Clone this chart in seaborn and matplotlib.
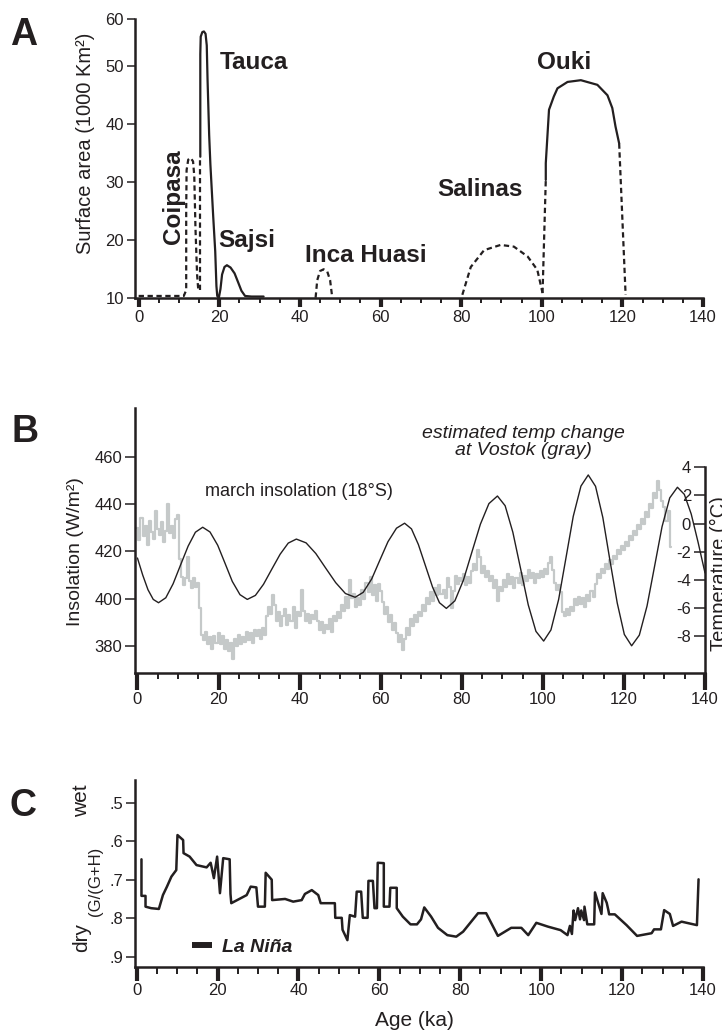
import matplotlib
matplotlib.use("Agg")
import numpy as np
import pandas as pd
import matplotlib.pyplot as plt
from matplotlib.lines import Line2D
from matplotlib.ticker import MultipleLocator
import seaborn as sns

# ---------------- panel A: lake surface area (1000 km2) ----------------
coipasa_age = [0, 11.2, 11.8, 11.8, 11.9, 12.3, 12.9, 13.5, 13.8, 14.1, 14.5, 14.8]
coipasa_area = [10.3, 10.3, 11.3, 25, 32, 33.8, 34.1, 33.5, 31, 22, 14, 11.3]
tauca_dash_age = [15.3, 15.3]
tauca_dash_area = [11.3, 34.3]
tauca_age = [15.3, 15.3, 15.4, 15.8, 16.2, 16.6, 16.9, 17.1, 17.5, 17.8, 18.5, 19.0, 19.3,
             19.5, 19.9, 20.3, 20.7, 21.3, 21.9, 22.8, 23.8, 24.6, 25.5, 26.4, 28, 31]
tauca_area = [34.3, 52, 55, 55.8, 55.9, 55.5, 53.5, 47.5, 38, 33, 24, 18, 12,
              10.3, 10, 11.5, 14, 15.3, 15.6, 15.2, 14.2, 12.8, 11.2, 10.3, 10.2, 10.2]
inca_age = [43.9, 44.3, 45.0, 45.9, 46.8, 47.5, 48.0]
inca_area = [10.0, 13.0, 14.6, 14.9, 14.5, 13.0, 10.2]
salinas_age = [80.3, 82.4, 85.7, 89.8, 93.1, 96.5, 98.9, 100.2]
salinas_area = [10.5, 15.3, 18.2, 19.1, 18.8, 17.1, 14.8, 10.8]
ouki_rise_age = [100.2, 101.0]
ouki_rise_area = [10.8, 30.3]
ouki_age = [101.0, 101.0, 101.8, 103.0, 103.9, 106.4, 109.7, 113.8, 116.3, 117.5, 118.3, 119.2]
ouki_area = [30.3, 33.2, 42.4, 44.7, 46.1, 47.2, 47.5, 46.7, 44.9, 42.7, 39.5, 36.6]
ouki_fall_age = [119.2, 120.8]
ouki_fall_area = [36.6, 10.5]

# ---------------- panel B: march insolation 18S and Vostok temperature ----------------
ins_age = [0, 1.3, 2.6, 3.9, 5.2, 7.0, 8.8, 10.65, 12.5, 14.3, 16.1, 17.9, 19.8, 21.6, 23.4,
           25.3, 27.1, 29.1, 31.1, 33.15, 35.2, 37.2, 39.2, 41.6, 44.0, 46.45, 48.9, 51.3,
           53.7, 55.7, 57.8, 59.8, 61.8, 63.9, 65.9, 67.6, 69.3, 71.05, 72.8, 74.5, 76.2,
           78.3, 80.4, 82.5, 84.6, 86.7, 88.8, 90.7, 92.6, 94.5, 96.4, 98.3, 100.2, 102.0,
           103.9, 105.7, 107.5, 109.4, 111.2, 113.0, 114.8, 116.55, 118.35, 120.1, 121.9,
           123.8, 125.7, 127.55, 129.4, 131.3, 133.2, 134.9, 136.6, 138.3, 140]
ins_wm2 = [417.2, 410.0, 403.8, 399.7, 398.3, 400.4, 406.3, 414.3, 422.2, 428.1, 430.2,
           428.2, 422.6, 415.0, 407.3, 401.7, 399.7, 401.4, 406.1, 412.5, 418.8, 423.5,
           425.2, 423.6, 419.1, 412.9, 406.8, 402.2, 400.6, 402.7, 408.4, 416.3, 424.1,
           429.8, 431.9, 429.5, 422.9, 413.9, 404.9, 398.3, 395.9, 399.1, 407.8, 419.7,
           431.5, 440.2, 443.4, 439.3, 428.1, 412.8, 397.4, 386.2, 382.1, 386.8, 399.7,
           417.2, 434.8, 447.6, 452.3, 447.5, 434.3, 416.2, 398.2, 384.9, 380.1, 384.6,
           396.9, 413.6, 430.4, 442.6, 447.1, 444.1, 435.8, 423.8, 410.9]

# Vostok temperature change, one value per 0.5 ka from 0 to 131.5 ka
vostok_temp = [
    -0.3, -1.2, 0.4, -0.9, -0.2, -1.5, 0.2, -0.6, -1.1, 0.9, -0.4, -0.8, 0.1, -1.3, -0.5, 1.4, -0.7, -0.2, -1.0, 0.3,
    0.6, -2.5, -3.8, -4.4, -3.9, -2.4, -4.1, -4.6, -3.9, -4.5, -4.2, -6.0, -7.9, -8.3, -7.7, -8.6, -8.1, -8.9, -8.0, -8.5,
    -7.8, -8.6, -8.0, -8.9, -8.3, -9.1, -8.5, -9.6, -8.2, -8.7, -7.9, -8.6, -8.1, -8.4, -7.7, -8.3, -7.8, -8.5, -7.6, -8.0,
    -7.6, -8.2, -7.4, -7.9, -6.6, -5.9, -6.4, -5.1, -5.8, -6.9, -6.3, -7.3, -6.6, -6.1, -7.2, -6.5, -6.9, -5.9, -7.4, -6.3,
    -6.6, -4.7, -6.2, -6.9, -6.4, -7.1, -6.5, -6.8, -6.2, -6.9, -7.6, -7.0, -7.8, -7.2, -7.5, -6.8, -7.7, -6.6, -6.9, -6.3,
    -6.7, -5.8, -6.2, -5.2, -6.0, -4.0, -5.3, -5.0, -5.9, -5.3, -5.8, -4.7, -5.4, -4.2, -4.9, -3.8, -5.1, -4.4, -5.5, -4.3,
    -4.8, -5.6, -6.4, -5.9, -7.0, -6.5, -7.6, -7.1, -7.8, -8.4, -7.9, -9.0, -8.2, -7.4, -7.9, -6.8, -7.3, -6.5, -7.0, -6.3,
    -6.6, -5.8, -6.2, -5.3, -5.7, -4.9, -5.5, -4.6, -5.1, -4.4, -5.0, -4.7, -5.3, -3.9, -4.5, -6.0, -4.8, -3.7, -4.3, -3.9,
    -4.1, -3.6, -4.4, -3.8, -4.2, -3.4, -2.9, -3.3, -1.9, -2.4, -3.5, -3.0, -3.8, -3.4, -4.1, -3.7, -4.6, -4.0, -5.5, -4.5,
    -4.8, -4.0, -4.5, -3.6, -4.3, -3.8, -4.6, -3.9, -4.2, -3.5, -4.4, -3.7, -4.1, -3.3, -3.9, -3.5, -4.2, -3.6, -3.9, -3.4,
    -3.8, -3.2, -3.6, -2.8, -2.4, -3.3, -4.2, -4.7, -4.4, -4.9, -6.3, -6.6, -6.1, -6.5, -5.9, -6.2, -5.4, -5.8, -5.2, -5.7,
    -5.3, -5.9, -5.1, -5.5, -4.8, -5.2, -4.3, -3.6, -3.9, -3.2, -3.5, -2.9, -3.2, -2.6, -2.9, -2.3, -2.5, -1.9, -2.2, -1.6,
    -1.9, -1.3, -1.6, -0.9, -1.2, -0.5, -0.8, -0.1, -0.4, 0.3, 0.0, 0.8, 0.5, 1.4, 1.1, 2.2, 1.8, 3.0, 2.4, 1.6,
    1.2, 0.2, 0.9, -1.7,
]
vostok_age = np.arange(len(vostok_temp)) * 0.5

# ---------------- panel C: G/(G+H) ratio ----------------
gh_age = [1.2, 1.2, 2.2, 2.2, 3.6, 5.5, 6.5, 7.5, 8.6, 9.8,
          10.1, 11.5, 11.6, 13.1, 14.8, 17.3, 18.3, 19.1, 19.9, 20.6,
          21.4, 23.0, 23.2, 23.4, 27.2, 28.2, 29.6, 30.0, 31.7, 31.9,
          33.4, 33.5, 36.7, 38.7, 40.8, 41.6, 43.3, 44.9, 45.5, 49.0,
          49.1, 50.7, 50.9, 52.1, 52.7, 54.0, 54.4, 55.5, 55.9, 57.1,
          57.3, 58.4, 58.8, 59.4, 59.6, 61.1, 61.1, 62.5, 62.7, 64.3,
          64.3, 65.8, 67.7, 69.3, 70.3, 71.1, 72.8, 74.5, 76.8, 79.0,
          80.7, 82.7, 84.4, 86.4, 89.3, 92.6, 95.1, 96.8, 98.8, 101.7,
          104.8, 106.5, 107.1, 107.6, 108.0, 108.4, 109.1, 109.6, 109.9, 110.6,
          110.7, 111.4, 113.1, 113.3, 114.1, 114.9, 115.2, 116.2, 116.6, 116.8,
          118.2, 121.1, 123.7, 127.3, 127.9, 129.6, 130.4, 131.8, 132.6, 134.7,
          138.5, 138.9]
gh_ratio = [0.647, 0.742, 0.742, 0.770, 0.774, 0.776, 0.740, 0.718, 0.692, 0.675,
            0.584, 0.597, 0.631, 0.640, 0.662, 0.668, 0.656, 0.696, 0.640, 0.735,
            0.644, 0.647, 0.737, 0.761, 0.740, 0.718, 0.720, 0.770, 0.770, 0.682,
            0.700, 0.753, 0.750, 0.757, 0.753, 0.737, 0.727, 0.740, 0.761, 0.761,
            0.799, 0.799, 0.830, 0.857, 0.792, 0.796, 0.731, 0.731, 0.799, 0.799,
            0.703, 0.703, 0.774, 0.774, 0.656, 0.657, 0.770, 0.770, 0.721, 0.721,
            0.774, 0.796, 0.816, 0.816, 0.803, 0.772, 0.796, 0.825, 0.844, 0.848,
            0.835, 0.809, 0.787, 0.787, 0.846, 0.825, 0.825, 0.844, 0.812, 0.822,
            0.831, 0.844, 0.820, 0.841, 0.780, 0.805, 0.774, 0.803, 0.780, 0.805,
            0.770, 0.816, 0.816, 0.733, 0.761, 0.789, 0.735, 0.760, 0.779, 0.790,
            0.790, 0.818, 0.846, 0.839, 0.829, 0.829, 0.779, 0.789, 0.820, 0.809,
            0.818, 0.699]

age_ticks = [0, 20, 40, 60, 80, 100, 120, 140]

sns.set_theme(style="ticks")
plt.rcParams["font.family"] = ["Liberation Sans", "DejaVu Sans"]
plt.rcParams["axes.unicode_minus"] = False

INK = "#231f20"
GRAY = "#c5c9c9"
DASH = (0, (2.4, 1.6))
W, H = 722, 1032

fig = plt.figure(figsize=(W / 100, H / 100), dpi=100)


def axes_px(left, top, right, bottom):
    return fig.add_axes([left / W, 1 - bottom / H, (right - left) / W, (bottom - top) / H])


def line(ax, x, y, **kw):
    df = pd.DataFrame({"x": x, "y": y})
    kw.setdefault("color", INK)
    kw.setdefault("lw", 1.6)
    sns.lineplot(data=df, x="x", y="y", ax=ax, estimator=None, sort=False, **kw)


def age_axis(ax, left, major_len, minor_len):
    ax.set_xlim(left, 140)
    ax.set_xticks(age_ticks)
    ax.xaxis.set_minor_locator(MultipleLocator(5))
    ax.tick_params(axis="x", which="major", length=major_len, width=3, pad=2,
                   color=INK, labelsize=12, labelcolor=INK)
    ax.tick_params(axis="x", which="minor", length=minor_len, width=1.4, color=INK)
    ax.tick_params(axis="y", which="major", width=1.1, pad=2, color=INK,
                   labelsize=12, labelcolor=INK)
    for side in ["top", "right"]:
        ax.spines[side].set_visible(False)
    for side in ["left", "bottom"]:
        ax.spines[side].set_linewidth(1.8)
        ax.spines[side].set_color(INK)
    ax.set_xlabel("")
    ax.set_facecolor("none")


# ---------------- A ----------------
ax_a = axes_px(135, 19, 703, 297.7)
line(ax_a, coipasa_age, coipasa_area, linestyle=DASH)
line(ax_a, tauca_dash_age, tauca_dash_area, linestyle=DASH)
line(ax_a, tauca_age, tauca_area)
line(ax_a, inca_age, inca_area, linestyle=DASH)
line(ax_a, salinas_age, salinas_area, linestyle=DASH)
line(ax_a, ouki_rise_age, ouki_rise_area, linestyle=DASH)
line(ax_a, ouki_age, ouki_area)
line(ax_a, ouki_fall_age, ouki_fall_area, linestyle=DASH)
age_axis(ax_a, -0.9, 6.5, 3.5)
ax_a.set_ylim(10, 58.05)
ax_a.set_yticks([10, 20, 30, 40, 50, 58.05], ["10", "20", "30", "40", "50", "60"])
ax_a.tick_params(axis="y", length=6)
ax_a.set_ylabel("Surface area (1000 Km²)", fontsize=14.5, color=INK, va="center")
ax_a.yaxis.set_label_coords(-0.088, 0.555)
lake_kw = dict(fontsize=17.5, fontweight="bold", color=INK, va="center")
ax_a.text(20.2, 50.5, "Tauca", ha="left", **lake_kw)
ax_a.text(8.6, 27.5, "Coipasa", ha="center", rotation=90, **lake_kw)
ax_a.text(19.7, 19.8, "Sajsi", ha="left", **lake_kw)
ax_a.text(41.3, 17.2, "Inca Huasi", ha="left", **lake_kw)
ax_a.text(74.2, 28.7, "Salinas", ha="left", **lake_kw)
ax_a.text(98.9, 50.5, "Ouki", ha="left", **lake_kw)

# ---------------- B ----------------
ax_b = axes_px(135, 408, 705, 673)
ax_t = ax_b.twinx()
line(ax_t, vostok_age, vostok_temp, color=GRAY, lw=1.6, drawstyle="steps-mid")
line(ax_b, ins_age, ins_wm2, lw=1.0)
ax_b.set_zorder(ax_t.get_zorder() + 1)
age_axis(ax_b, -0.6, 12, 4.5)
ax_b.set_ylim(368.6, 480.6)
ax_b.set_yticks([380, 400, 420, 440, 460])
ax_b.tick_params(axis="y", length=7)
ax_b.set_ylabel("Insolation (W/m²)", fontsize=14, color=INK, va="center")
ax_b.yaxis.set_label_coords(-0.105, 0.457)
ax_b.text(16.6, 445.2, "march insolation (18°S)", fontsize=13, color=INK, ha="left", va="center")
ax_b.text(95.3, 466.4, "estimated temp change\nat Vostok (gray)", fontsize=14, style="italic",
          color=INK, ha="center", va="center", linespacing=1.0)

ax_t.set_ylim(-10.63, 8.22)
ax_t.set_yticks([-8, -6, -4, -2, 0, 2, 4])
ax_t.tick_params(axis="y", direction="in", length=8, width=1.1, pad=-10, color=INK,
                 labelsize=12, labelcolor=INK)
for lab in ax_t.get_yticklabels():
    lab.set_horizontalalignment("right")
for side in ["top", "left", "bottom"]:
    ax_t.spines[side].set_visible(False)
ax_t.spines["right"].set_bounds(-10.63, 4)
ax_t.spines["right"].set_linewidth(1.8)
ax_t.spines["right"].set_color(INK)
ax_t.set_ylabel("")
ax_t.set_xlabel("")
# the reference crops this label at the right edge of the figure
fig.text(710 / W, 1 - 574 / H, "Temperature (°C)", rotation=90, fontsize=14.5, color=INK,
         ha="left", va="center")

# ---------------- C ----------------
ax_c = axes_px(135, 780, 703, 966.7)
line(ax_c, gh_age, gh_ratio, lw=1.8)
age_axis(ax_c, -0.4, 10, 5)
ax_c.set_ylim(0.926, 0.441)
ax_c.set_yticks([0.5, 0.6, 0.7, 0.8, 0.9], [".5", ".6", ".7", ".8", ".9"])
ax_c.tick_params(axis="y", length=6.5)
ax_c.set_ylabel("")
nina = Line2D([], [], color=INK, lw=4.3, solid_capstyle="butt")
ax_c.legend([nina], ["La Niña"], loc="center left",
            bbox_to_anchor=((192 - 135) / 568, (966.7 - 946.7) / 186.7),
            frameon=False, handlelength=1.05, handletextpad=0.5, borderpad=0, borderaxespad=0,
            prop={"weight": "bold", "style": "italic", "size": 14}, labelcolor=INK)
fig.text(82 / W, 1 - 801 / H, "wet", rotation=90, fontsize=15, color=INK, ha="center", va="center")
fig.text(82 / W, 1 - 938 / H, "dry", rotation=90, fontsize=15, color=INK, ha="center", va="center")
fig.text(96 / W, 1 - 881 / H, "(G/(G+H)", rotation=90, fontsize=12, color=INK, ha="center", va="center")
fig.text(414 / W, 1 - 1020 / H, "Age (ka)", fontsize=15, color=INK, ha="center", va="center")

# panel letters
for letter, (px, py) in {"A": (24, 35), "B": (25, 432), "C": (23, 806)}.items():
    fig.text(px / W, 1 - py / H, letter, fontsize=27, fontweight="bold", color=INK,
             ha="center", va="center")

fig.savefig("out.png", dpi=100)
